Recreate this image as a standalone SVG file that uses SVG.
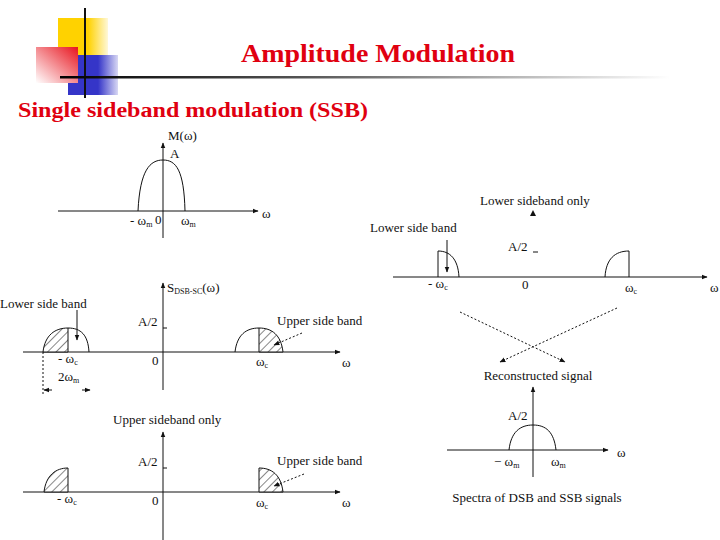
<svg xmlns="http://www.w3.org/2000/svg" width="720" height="540" viewBox="0 0 720 540">
<style>
.t{font-family:'Liberation Serif','Times New Roman',Times,serif;font-size:13px;fill:#111}
.hd{font-family:'Liberation Serif','Times New Roman',Times,serif;font-weight:bold;fill:#e00010}
.ax{stroke:#111;stroke-width:1;fill:none}
.cv{stroke:#111;stroke-width:1;fill:none}
.dt{stroke:#111;stroke-width:1;stroke-dasharray:2,2;fill:none}
.h{fill:url(#hatch);stroke:#111;stroke-width:1}
</style>
<defs>
<marker id="ar" viewBox="0 0 10 10" refX="9" refY="5" markerWidth="6" markerHeight="6" orient="auto-start-reverse"><path d="M0,1 L10,5 L0,9 z" fill="#111"/></marker>
<pattern id="hatch" patternUnits="userSpaceOnUse" width="6" height="6" patternTransform="rotate(45)"><rect width="6" height="6" fill="#fff"/><line x1="0" y1="0" x2="0" y2="6" stroke="#111" stroke-width="1"/></pattern>
<linearGradient id="hl" x1="0" x2="1"><stop offset="0" stop-color="#000"/><stop offset="0.4" stop-color="#555"/><stop offset="1" stop-color="#fff"/></linearGradient>
<linearGradient id="rg" x1="1" y1="0" x2="0" y2="1"><stop offset="0" stop-color="#e8141e"/><stop offset="1" stop-color="#fff"/></linearGradient>
<linearGradient id="yg" x1="0" x2="1"><stop offset="0.6" stop-color="#ffd200"/><stop offset="1" stop-color="#fff8d8"/></linearGradient>
<linearGradient id="bg" x1="0" x2="1"><stop offset="0.6" stop-color="#3535c8"/><stop offset="1" stop-color="#d8d8f4"/></linearGradient>
</defs>
<rect width="720" height="540" fill="#fff"/>
<g id="logo">
<rect x="58" y="18" width="50" height="37" fill="url(#yg)"/>
<rect x="68" y="55" width="50" height="40" fill="url(#bg)"/>
<rect x="36" y="47" width="42" height="36" fill="url(#rg)"/>
<line x1="85" y1="8" x2="85" y2="98" stroke="#111" stroke-width="2"/>
<rect x="60" y="76" width="610" height="2.5" fill="url(#hl)"/>
</g>
<g id="titles">
<text class="hd" x="241" y="62" font-size="25" textLength="274" lengthAdjust="spacingAndGlyphs">Amplitude Modulation</text>
<text class="hd" x="18" y="117" font-size="22" textLength="350" lengthAdjust="spacingAndGlyphs">Single sideband modulation (SSB)</text>
</g>
<g id="plot-m">
<line class="ax" x1="58" y1="211" x2="258" y2="211" marker-end="url(#ar)"/>
<line class="ax" x1="163" y1="238" x2="163" y2="143" marker-end="url(#ar)"/>
<path class="cv" d="M138,211 C140,170 150,160 163,160 C176,160 184,170 185,211"/>
<text class="t" x="168" y="140">M(ω)</text>
<text class="t" x="170" y="158">A</text>
<text class="t" x="130" y="225" font-size="11">- ω<tspan font-size="8" dy="2">m</tspan></text>
<text class="t" x="155" y="224">0</text>
<text class="t" x="181" y="225" font-size="11">ω<tspan font-size="8" dy="2">m</tspan></text>
<text class="t" x="262" y="218">ω</text>
</g>
<g id="plot-dsb">
<line class="ax" x1="23" y1="352" x2="340" y2="352" marker-end="url(#ar)"/>
<line class="ax" x1="163" y1="390" x2="163" y2="283" marker-end="url(#ar)"/>
<line class="ax" x1="163" y1="328" x2="167" y2="328"/>
<path class="h" d="M43,352 C45,335 55,328 68,328 L68,352 Z"/>
<path class="cv" d="M68,328 C81,328 88,335 89,352"/>
<path class="cv" d="M235,352 C237,335 246,328 259,328"/>
<path class="h" d="M259,328 C272,328 281,335 283,352 L259,352 Z"/>
<text class="t" x="138" y="326">A/2</text>
<text class="t" x="167" y="292">S<tspan font-size="8" dy="2">DSB-SC</tspan><tspan dy="-2">(ω)</tspan></text>
<text class="t" x="0" y="308">Lower side band</text>
<line class="ax" x1="77" y1="310" x2="77" y2="340" marker-end="url(#ar)"/>
<text class="t" x="277" y="325">Upper side band</text>
<line class="dt" x1="302" y1="333" x2="274" y2="345" marker-end="url(#ar)"/>
<text class="t" x="58" y="363" font-size="11">- ω<tspan font-size="8" dy="2">c</tspan></text>
<text class="t" x="152" y="365">0</text>
<text class="t" x="256" y="366" font-size="11">ω<tspan font-size="8" dy="2">c</tspan></text>
<text class="t" x="342" y="367">ω</text>
<text class="t" x="58" y="381" font-size="11">2ω<tspan font-size="8" dy="2">m</tspan></text>
<line class="dt" x1="43" y1="352" x2="43" y2="395"/>
<line class="ax" x1="52" y1="390" x2="44" y2="390" marker-end="url(#ar)"/>
<line class="ax" x1="82" y1="390" x2="90" y2="390" marker-end="url(#ar)"/>
</g>
<g id="plot-usb">
<text class="t" x="113" y="424">Upper sideband only</text>
<line class="ax" x1="23" y1="492" x2="340" y2="492" marker-end="url(#ar)"/>
<line class="ax" x1="163" y1="540" x2="163" y2="432" marker-end="url(#ar)"/>
<line class="ax" x1="163" y1="468" x2="167" y2="468"/>
<path class="h" d="M44,492 C46,475 56,468 68,468 L68,492 Z"/>
<path class="h" d="M259,468 C272,468 281,475 283,492 L259,492 Z"/>
<text class="t" x="138" y="466">A/2</text>
<text class="t" x="277" y="465">Upper side band</text>
<line class="dt" x1="304" y1="474" x2="274" y2="486" marker-end="url(#ar)"/>
<text class="t" x="57" y="503" font-size="11">- ω<tspan font-size="8" dy="2">c</tspan></text>
<text class="t" x="152" y="505">0</text>
<text class="t" x="256" y="507" font-size="11">ω<tspan font-size="8" dy="2">c</tspan></text>
<text class="t" x="342" y="507">ω</text>
</g>
<g id="plot-lsb">
<text class="t" x="480" y="205">Lower sideband only</text>
<path d="M530,216 L533,210 L536,216 z" fill="#111"/>
<line class="ax" x1="393" y1="277" x2="707" y2="277" marker-end="url(#ar)"/>
<path class="cv" d="M438,277 L438,251 C450,251 458,259 459,277"/>
<path class="cv" d="M605,277 C606,259 615,251 629,251 L629,277"/>
<text class="t" x="508" y="251">A/2</text>
<line class="ax" x1="533" y1="252" x2="538" y2="252"/>
<text class="t" x="370" y="232">Lower side band</text>
<line class="ax" x1="447" y1="240" x2="447" y2="272" marker-end="url(#ar)"/>
<text class="t" x="428" y="288" font-size="11">- ω<tspan font-size="8" dy="2">c</tspan></text>
<text class="t" x="522" y="289">0</text>
<text class="t" x="625" y="292" font-size="11">ω<tspan font-size="8" dy="2">c</tspan></text>
<text class="t" x="710" y="292">ω</text>
</g>
<g id="connectors">
<line class="dt" x1="460" y1="312" x2="565" y2="362" marker-end="url(#ar)"/>
<line class="dt" x1="617" y1="308" x2="500" y2="362" marker-end="url(#ar)"/>
</g>
<g id="plot-rec">
<text class="t" x="538" y="380" text-anchor="middle">Reconstructed signal</text>
<line class="ax" x1="533" y1="477" x2="533" y2="387" marker-end="url(#ar)"/>
<line class="ax" x1="447" y1="450" x2="608" y2="450" marker-end="url(#ar)"/>
<path class="cv" d="M509,450 C511,432 520,425 533,425 C546,425 554,432 556,450"/>
<text class="t" x="508" y="420">A/2</text>
<text class="t" x="494" y="466" font-size="11">− ω<tspan font-size="8" dy="2">m</tspan></text>
<text class="t" x="551" y="466" font-size="11">ω<tspan font-size="8" dy="2">m</tspan></text>
<text class="t" x="617" y="457">ω</text>
<text class="t" x="537" y="502" text-anchor="middle">Spectra of DSB and SSB signals</text>
</g>
</svg>
